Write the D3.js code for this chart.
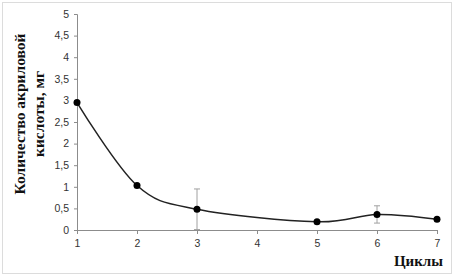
<!DOCTYPE html>
<html>
<head>
<meta charset="utf-8">
<script src="https://cdn.jsdelivr.net/npm/d3@7"></script>
<style>
  body { margin: 0; background: #fff; }
  svg { display: block; }
</style>
</head>
<body>
<svg id="chart" width="454" height="276"></svg>
<script>
// values
const cycles = [1, 2, 3, 5, 6, 7];
const amount = [2.95, 1.03, 0.48, 0.19, 0.36, 0.25];
const errors = [0, 0, 0.47, 0, 0.2, 0];
const xTicks = [1, 2, 3, 4, 5, 6, 7];
const yTicks = [0, 0.5, 1, 1.5, 2, 2.5, 3, 3.5, 4, 4.5, 5];
const yTitle = ['Количество акриловой', 'кислоты, мг'];
const xTitle = 'Циклы';

const width = 454, height = 276;
const svg = d3.select('#chart');

// outer frame
svg.append('rect')
    .attr('x', 2.5).attr('y', 2.5)
    .attr('width', width - 5).attr('height', height - 5)
    .attr('fill', 'none')
    .attr('stroke', '#dcdcdc');

const x = d3.scaleLinear().domain([1, 7]).range([77, 437]);
const y = d3.scaleLinear().domain([0, 5]).range([230, 14]);

const fmt = d => String(d).replace('.', ',');

const xAxis = svg.append('g')
    .attr('transform', `translate(0,${y(0)})`)
    .call(d3.axisBottom(x).tickValues(xTicks).tickSize(4).tickPadding(6).tickFormat(d3.format('d')));

const yAxis = svg.append('g')
    .attr('transform', `translate(${x(1)},0)`)
    .call(d3.axisLeft(y).tickValues(yTicks).tickSize(3).tickPadding(5).tickFormat(fmt));

[xAxis, yAxis].forEach(a => {
    a.select('.domain').attr('stroke', '#8c8c8c');
    a.selectAll('.tick line').attr('stroke', '#8c8c8c');
    a.selectAll('.tick text')
        .attr('fill', '#333')
        .style('font-family', 'Liberation Sans, Arial, sans-serif')
        .style('font-size', '10.5px');
});

const pts = cycles.map((c, i) => ({ c: c, v: amount[i], e: errors[i] }));

// error bars
const eb = svg.append('g').attr('stroke', '#a0a0a0').attr('stroke-width', 1);
pts.filter(d => d.e > 0).forEach(d => {
    eb.append('line')
        .attr('x1', x(d.c)).attr('x2', x(d.c))
        .attr('y1', y(d.v - d.e)).attr('y2', y(d.v + d.e));
    [d.v - d.e, d.v + d.e].forEach(v => {
        eb.append('line')
            .attr('x1', x(d.c) - 3).attr('x2', x(d.c) + 3)
            .attr('y1', y(v)).attr('y2', y(v));
    });
});

// smoothed line, like Excel's
const line = d3.line()
    .x(d => x(d.c))
    .y(d => y(d.v))
    .curve(d3.curveCardinal.tension(0));

svg.append('path')
    .datum(pts)
    .attr('d', line)
    .attr('fill', 'none')
    .attr('stroke', '#222')
    .attr('stroke-width', 1.5);

svg.append('g').selectAll('circle')
    .data(pts)
    .enter()
    .append('circle')
    .attr('cx', d => x(d.c))
    .attr('cy', d => y(d.v))
    .attr('r', 3.5)
    .attr('fill', '#000');

// titles
const yt = svg.append('text')
    .attr('transform', 'rotate(-90)')
    .attr('text-anchor', 'middle')
    .style('font-family', 'Liberation Serif, Times New Roman, serif')
    .style('font-weight', 'bold')
    .style('font-size', '15.5px')
    .attr('fill', '#111');
yTitle.forEach((t, i) => {
    yt.append('tspan')
        .attr('x', -114)
        .attr('y', 25 + i * 19)
        .text(t);
});

svg.append('text')
    .attr('x', 443)
    .attr('y', 266)
    .attr('text-anchor', 'end')
    .style('font-family', 'Liberation Serif, Times New Roman, serif')
    .style('font-weight', 'bold')
    .style('font-size', '15px')
    .attr('fill', '#111')
    .text(xTitle);
</script>
</body>
</html>
